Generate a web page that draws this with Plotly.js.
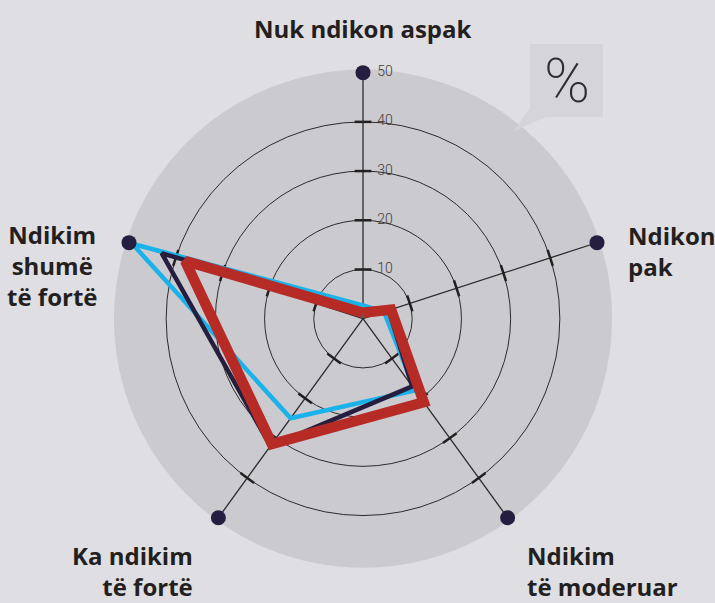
<!DOCTYPE html>
<html><head><meta charset="utf-8">
<script src="https://cdn.plot.ly/plotly-3.0.1.min.js"></script>
<style>html,body{margin:0;padding:0;background:#dfdee3;} #chart{width:715px;height:603px;}</style>
</head><body><div id="chart"></div>
<script>
// ---- data ----
const categories = ["Nuk ndikon aspak", "Ndikon pak", "Ndikim të moderuar", "Ka ndikim të fortë", "Ndikim shumë të fortë"];
const categoryLabels = ["Nuk ndikon aspak", "Ndikon<br>pak", "Ndikim<br>të moderuar", "Ka ndikim<br>të fortë", "Ndikim<br>shumë<br>të fortë"];
const seriesCyan = [2.7, 4.5, 18, 25, 49.3];
const seriesNavy = [1.5, 5.5, 17, 32, 43];
const seriesRed = [1.2, 6, 21, 31.5, 38];
const tickValues = [10, 20, 30, 40, 50];
const tickLabels = ["10", "20", "30", "40", "50"];
const gridValues = [10, 20, 30, 40];
const axisEnd = 50;

// ---- style ----
const W = 715, H = 603, CX = 363, CY = 318.7, R = 249, RMAX = 50.6;
const INK = '#231f20', NAVY = '#261e3f', RED = '#b62b26', CYAN = '#1ab2ea';
const BG = '#dfdee3', DISC = '#cbcacf', BOX = '#d5d4d9';

function closeLoop(a) { return a.concat([a[0]]); }

const traces = [];
// tick marks on every spoke
const tr = [], tt = [], ta = [];
categories.forEach((c, i) => gridValues.forEach(v => { tr.push(v); tt.push(c); ta.push(i * 72); }));
traces.push({type: 'scatterpolar', mode: 'markers', r: tr, theta: tt,
  marker: {symbol: 'line-ew', size: 12, angle: ta, color: INK, line: {color: INK, width: 2.5}},
  hoverinfo: 'skip', showlegend: false});
// series
const series = [[seriesCyan, CYAN, 4.5], [seriesNavy, NAVY, 4.5], [seriesRed, RED, 10.5]];
series.forEach(([vals, col, w]) => traces.push({type: 'scatterpolar', mode: 'lines',
  r: closeLoop(vals), theta: closeLoop(categories),
  line: {color: col, width: w}, hoverinfo: 'skip', showlegend: false}));
// axis end dots
traces.push({type: 'scatterpolar', mode: 'markers', r: categories.map(() => axisEnd), theta: categories,
  marker: {size: 15, color: NAVY}, hoverinfo: 'skip', showlegend: false});
// radial tick labels on the top spoke
traces.push({type: 'scatterpolar', mode: 'markers+text', r: tickValues, theta: tickValues.map(() => categories[0]),
  text: tickLabels, textposition: 'middle right',
  textfont: {family: 'Roboto, sans-serif', size: 14, color: '#3c3c3c', weight: 300},
  marker: {size: 21, color: 'rgba(0,0,0,0)'}, hoverinfo: 'skip', showlegend: false});

const px = (x, y) => (x / W).toFixed(5) + ',' + (1 - y / H).toFixed(5);
const labelFont = {family: '"Open Sans", sans-serif', size: 24, color: INK, weight: 700};
const labelPos = [
  {x: 363, y: 28, xanchor: 'center', align: 'center'},
  {x: 626, y: 251, xanchor: 'left', align: 'left'},
  {x: 525, y: 571, xanchor: 'left', align: 'left'},
  {x: 195, y: 571, xanchor: 'right', align: 'right'},
  {x: 52, y: 265, xanchor: 'center', align: 'center'}
];
const annotations = categoryLabels.map((t, i) => ({
  text: t, xref: 'paper', yref: 'paper', x: labelPos[i].x / W, y: 1 - labelPos[i].y / H,
  xanchor: labelPos[i].xanchor, yanchor: 'middle', align: labelPos[i].align,
  showarrow: false, font: labelFont
}));
annotations.push({text: '%', xref: 'paper', yref: 'paper', x: 567 / W, y: 1 - 80 / H,
  xanchor: 'center', yanchor: 'middle', showarrow: false,
  font: {family: 'Roboto, sans-serif', size: 62, color: '#2e2e2e', weight: 200}});

const layout = {
  width: W, height: H, margin: {l: 0, r: 0, t: 0, b: 0},
  paper_bgcolor: BG, plot_bgcolor: BG, showlegend: false,
  polar: {
    domain: {x: [(CX - R) / W, (CX + R) / W], y: [(H - CY - R) / H, (H - CY + R) / H]},
    bgcolor: DISC,
    radialaxis: {range: [0, RMAX], tickvals: gridValues, showticklabels: false, ticks: '',
      showline: false, showgrid: true, gridcolor: '#2b2b2b', gridwidth: 1},
    angularaxis: {type: 'category', categoryarray: categories, direction: 'clockwise', rotation: 90,
      showline: false, showgrid: true, gridcolor: '#2b2b2b', gridwidth: 1.3,
      showticklabels: false, ticks: ''}
  },
  shapes: [{type: 'path', xref: 'paper', yref: 'paper', layer: 'above',
    path: 'M' + px(530, 44) + ' L' + px(603, 44) + ' L' + px(603, 117) + ' L' + px(546, 117) +
          ' L' + px(514, 131) + ' L' + px(530, 108) + ' Z',
    fillcolor: BOX, line: {width: 0}}],
  annotations: annotations
};
Plotly.newPlot('chart', traces, layout, {displayModeBar: false, staticPlot: true});
</script></body></html>
